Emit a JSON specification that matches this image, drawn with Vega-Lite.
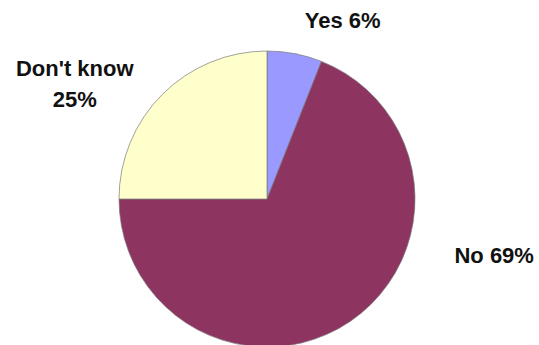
{
  "$schema": "https://vega.github.io/schema/vega-lite/v6.json",
  "width": 534,
  "height": 398,
  "autosize": {"type": "none"},
  "padding": 0,
  "background": "white",
  "view": {"stroke": null},
  "data": {"values": [
    {"category": "Yes", "value": 6, "order": 1, "label": "Yes 6%"},
    {"category": "No", "value": 69, "order": 2, "label": "No 69%"},
    {"category": "Don't know", "value": 25, "order": 3, "label": "Don't know\n25%"}
  ]},
  "encoding": {
    "theta": {"field": "value", "type": "quantitative", "stack": true},
    "order": {"field": "order", "type": "quantitative"}
  },
  "layer": [
    {
      "mark": {"type": "arc", "outerRadius": 148, "stroke": "#7a7a7a", "strokeWidth": 0.7},
      "encoding": {
        "color": {"field": "category", "type": "nominal",
          "scale": {"domain": ["Yes", "No", "Don't know"], "range": ["#9999ff", "#8e3461", "#ffffcc"]},
          "legend": null}
      }
    },
    {
      "mark": {"type": "text", "radius": 180, "dx": 42, "dy": -1, "font": "Liberation Sans", "fontWeight": "bold", "fontSize": 22, "lineBreak": "\n", "lineHeight": 31.6, "align": "center", "baseline": "middle", "color": "#111111"},
      "encoding": {"text": {"condition": {"test": "datum.category === 'Yes'", "field": "label"}, "value": ""}}
    },
    {
      "mark": {"type": "text", "radius": 180, "dx": 126, "dy": -92, "font": "Liberation Sans", "fontWeight": "bold", "fontSize": 22, "lineBreak": "\n", "lineHeight": 31.6, "align": "center", "baseline": "middle", "color": "#111111"},
      "encoding": {"text": {"condition": {"test": "datum.category === 'No'", "field": "label"}, "value": ""}}
    },
    {
      "mark": {"type": "text", "radius": 180, "dx": -65, "dy": -3, "font": "Liberation Sans", "fontWeight": "bold", "fontSize": 22, "lineBreak": "\n", "lineHeight": 31.6, "align": "center", "baseline": "middle", "color": "#111111"},
      "encoding": {"text": {"condition": {"test": "datum.category === \"Don't know\"", "field": "label"}, "value": ""}}
    }
  ]
}
